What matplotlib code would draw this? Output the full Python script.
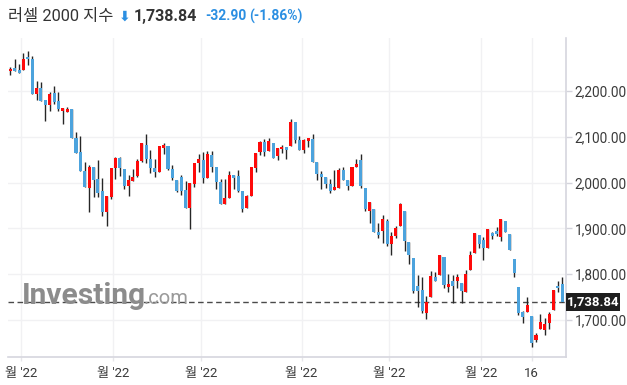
import matplotlib
matplotlib.use("Agg")
import matplotlib.pyplot as plt
from matplotlib.patches import Rectangle
import numpy as np

plt.rcParams['font.family'] = ['Roboto', 'Noto Sans CJK KR', 'DejaVu Sans']

# ---- data (Russell 2000 daily candles) ----
opens = [2243, 2250, 2245, 2246, 2274, 2269, 2194, 2206, 2181, 2170,
         2196, 2178, 2157, 2155, 2161, 2098, 2066, 2025, 1988, 2033,
         2007, 1981, 1935, 1969, 2031, 2053, 2029, 1993, 2004, 2015,
         2048, 2083, 2052, 2031, 2023, 2075, 2079, 2029, 2006, 2012,
         1983, 1945, 1996, 2042, 2049, 2010, 2061, 2033, 2002, 1954,
         1967, 2016, 2014, 1981, 1945, 1971, 2032, 2067, 2088, 2069,
         2087, 2057, 2073, 2078, 2080, 2133, 2092, 2072, 2090, 2096,
         2046, 2018, 2012, 1996, 1983, 1988, 2027, 2006, 1993, 2034,
         2049, 1988, 1937, 1942, 1893, 1894, 1916, 1865, 1884, 1905,
         1937, 1870, 1835, 1774, 1765, 1716, 1751, 1793, 1799, 1838,
         1772, 1786, 1786, 1781, 1760, 1808, 1846, 1885, 1874, 1857,
         1890, 1895, 1881, 1915, 1887, 1833, 1772, 1717, 1718, 1708,
         1657, 1680, 1679, 1694, 1721, 1775, 1779]
highs = [2253, 2271, 2258, 2283, 2288, 2276, 2221, 2219, 2181, 2198,
         2210, 2198, 2163, 2165, 2161, 2111, 2102, 2044, 2039, 2033,
         2050, 2009, 1970, 2031, 2056, 2056, 2029, 2016, 2029, 2051,
         2086, 2107, 2072, 2051, 2079, 2086, 2079, 2039, 2006, 2017,
         2003, 1999, 2042, 2062, 2067, 2069, 2068, 2033, 2007, 2007,
         2025, 2016, 2028, 1981, 1972, 2033, 2065, 2091, 2096, 2097,
         2087, 2075, 2083, 2078, 2139, 2133, 2101, 2096, 2097, 2105,
         2046, 2026, 2012, 2007, 2028, 2031, 2035, 2006, 2034, 2052,
         2062, 1988, 1957, 1942, 1912, 1929, 1921, 1891, 1905, 1955,
         1937, 1870, 1835, 1798, 1793, 1753, 1807, 1804, 1841, 1838,
         1800, 1798, 1801, 1781, 1808, 1850, 1889, 1885, 1881, 1899,
         1893, 1904, 1921, 1917, 1887, 1833, 1772, 1720, 1751, 1708,
         1672, 1712, 1704, 1718, 1766, 1784, 1794]
lows = [2236, 2244, 2240, 2246, 2256, 2194, 2180, 2179, 2134, 2156,
        2171, 2157, 2128, 2155, 2097, 2064, 2025, 1991, 1935, 1969,
        1968, 1928, 1905, 1964, 2007, 2015, 1987, 1971, 2004, 2013,
        2046, 2042, 2020, 2013, 2023, 2062, 2028, 2006, 1979, 1973,
        1945, 1899, 1991, 2023, 1998, 2010, 2022, 1987, 1954, 1954,
        1966, 1986, 1980, 1935, 1945, 1971, 2022, 2061, 2057, 2069,
        2054, 2049, 2065, 2051, 2080, 2086, 2071, 2065, 2078, 2045,
        2006, 1986, 1989, 1977, 1983, 1988, 2006, 1984, 1993, 2034,
        1989, 1938, 1911, 1892, 1878, 1867, 1862, 1842, 1878, 1905,
        1851, 1823, 1759, 1729, 1716, 1703, 1751, 1785, 1799, 1769,
        1761, 1737, 1770, 1737, 1760, 1808, 1846, 1858, 1831, 1857,
        1876, 1883, 1873, 1892, 1852, 1794, 1711, 1693, 1718, 1641,
        1652, 1680, 1667, 1680, 1721, 1760, 1739]
closes = [2249, 2244, 2240, 2271, 2269, 2194, 2206, 2179, 2170, 2193,
          2176, 2160, 2163, 2161, 2097, 2064, 2025, 1991, 2035, 2006,
          1978, 1935, 1970, 2031, 2053, 2032, 1993, 2006, 2013, 2047,
          2086, 2051, 2031, 2023, 2079, 2081, 2029, 2009, 1982, 1982,
          1945, 1999, 2042, 2051, 2010, 2062, 2033, 2002, 1954, 1966,
          2017, 2010, 1982, 1942, 1970, 2033, 2065, 2088, 2067, 2090,
          2054, 2075, 2078, 2072, 2133, 2092, 2071, 2092, 2097, 2046,
          2018, 2012, 1996, 1982, 1990, 2027, 2006, 1993, 2034, 2041,
          1993, 1942, 1957, 1892, 1885, 1920, 1865, 1884, 1900, 1953,
          1873, 1842, 1764, 1764, 1720, 1740, 1796, 1785, 1841, 1777,
          1778, 1773, 1794, 1764, 1801, 1841, 1889, 1865, 1856, 1899,
          1883, 1888, 1921, 1892, 1852, 1803, 1715, 1707, 1732, 1649,
          1667, 1695, 1691, 1713, 1766, 1769, 1738.84]

tick_pos = [2.5, 23.5, 43.5, 66.5, 86.5, 107.5, 119]
tick_labels = ["월 '22", "월 '22", "월 '22", "월 '22", "월 '22", "월 '22", "16"]
y_ticks = [1700, 1800, 1900, 2000, 2100, 2200]

last_price = 1738.84
change = -32.90
change_pct = -1.86
title_name = "러셀 2000 지수"

UP = '#fe0a0a'
DOWN = '#4ca3dd'
WICK = '#262626'
BLUE_TXT = '#2b8fe2'

W, H = 627, 385
fig = plt.figure(figsize=(W / 100, H / 100), dpi=100)
ax = fig.add_axes([8 / W, 1 - 356.7 / H, (565.7 - 8) / W, (356.7 - 38) / H])

x = np.arange(len(opens))
o = np.array(opens, float)
h = np.array(highs, float)
l = np.array(lows, float)
c = np.array(closes, float)
up = c >= o
colors = np.where(up, UP, DOWN)

ax.vlines(x, l, h, color=WICK, linewidth=1.0, zorder=3)
bottoms = np.minimum(o, c)
heights = np.maximum(np.abs(c - o), 1.5)
ax.bar(x, heights, bottom=bottoms, width=0.7, color=colors, zorder=4, linewidth=0)

ax.set_xlim(-0.525, 126.78)
ax.set_ylim(1619.6, 2315.8)

# grid
for yv in y_ticks:
    ax.axhline(yv, color='#f1f1f3', linewidth=1.0, zorder=0)
for xv in tick_pos:
    ax.axvline(xv, color='#f1f1f3', linewidth=1.0, zorder=0)

# last price dashed line
ax.axhline(last_price, color='#4a4a4a', linewidth=1.0, linestyle=(0, (4, 2.5)), zorder=2)

ax.yaxis.tick_right()
ax.set_yticks(y_ticks)
ax.set_yticklabels([f"{v:,.2f}" for v in y_ticks], fontsize=9.8, color='#3a3a3a')
ax.tick_params(axis='y', length=4, width=1, color='#d4d4dc', pad=2.5)
ax.set_xticks(tick_pos)
ax.set_xticklabels(tick_labels, fontsize=9.5, color='#3a3a3a')
ax.tick_params(axis='x', length=3, width=1, color='#e6e6ea', pad=4.5)

for s in ['top', 'left']:
    ax.spines[s].set_visible(False)
for s in ['right', 'bottom']:
    ax.spines[s].set_color('#d6d6de')
    ax.spines[s].set_linewidth(1.2)

def fx(px):
    return px / W

def fy(py):
    return 1 - py / H

# last price tag
fig.patches.append(Rectangle((fx(566), fy(311)), (620 - 566) / W, 18 / H,
                             transform=fig.transFigure, facecolor='#1e1e1e',
                             edgecolor='none', zorder=10))
fig.text(fx(593), fy(302), f"{last_price:,.2f}", ha='center', va='center',
         fontsize=9.5, fontweight='bold', color='white', zorder=11)

# watermark
fig.text(fx(22), fy(304), "Investing", fontsize=21.5, fontweight='bold',
         color='#8c8c8c', ha='left', va='baseline', zorder=1)
fig.text(fx(144), fy(304), ".com", fontsize=14.5, color='#9a9a9a',
         ha='left', va='baseline', zorder=1)

# title
fig.text(fx(8), fy(16), title_name, fontsize=11.8, color='#333333',
         ha='left', va='center')
fig.text(fx(118.5), fy(16.5), "⬇", fontsize=10, color=BLUE_TXT,
         ha='left', va='center', family=['DejaVu Sans'], fontweight='bold')
fig.text(fx(134), fy(16), f"{last_price:,.2f}", fontsize=11.5, fontweight='bold',
         color='#333333', ha='left', va='center')
fig.text(fx(205), fy(16), f"{change:.2f}", fontsize=10, fontweight='bold',
         color=BLUE_TXT, ha='left', va='center')
fig.text(fx(249), fy(16), f"({change_pct:.2f}%)", fontsize=10, fontweight='bold',
         color=BLUE_TXT, ha='left', va='center')

fig.savefig("out.png", dpi=100)
